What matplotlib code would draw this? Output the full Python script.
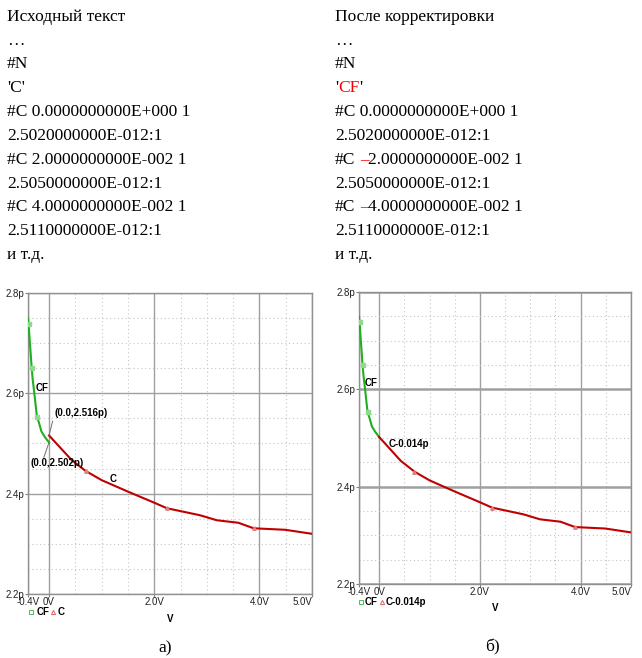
import matplotlib
matplotlib.use("Agg")
import matplotlib.pyplot as plt
from matplotlib.ticker import MultipleLocator

plt.rcParams['font.family'] = ['Liberation Sans', 'DejaVu Sans']

# text blocks above the charts
left_lines = ["Исходный текст", "…", "#N", "'C'",
              "#C 0.0000000000E+000 1", "2.5020000000E-012:1",
              "#C 2.0000000000E-002 1", "2.5050000000E-012:1",
              "#C 4.0000000000E-002 1", "2.5110000000E-012:1", "и т.д."]
right_lines = [[("После корректировки", "k")], [("…", "k")], [("#N", "k")],
               [("'", "k"), ("CF", "red"), ("'", "k")],
               [("#C 0.0000000000E+000 1", "k")], [("2.5020000000E-012:1", "k")],
               [("#C ", "k"), ("–", "red"), ("2.0000000000E-002 1", "k")],
               [("2.5050000000E-012:1", "k")],
               [("#C ", "k"), ("–", "red"), ("4.0000000000E-002 1", "k")],
               [("2.5110000000E-012:1", "k")], [("и т.д.", "k")]]

# curves (V, pF)
cf_v = [-0.40, -0.39, -0.33, -0.31, -0.285, -0.25, -0.23, -0.19, -0.145, -0.08, 0.0]
cf_c = [2.749, 2.739, 2.651, 2.627, 2.605, 2.572, 2.553, 2.541, 2.524, 2.513, 2.502]
c_v = [0.0, 0.43, 0.70, 1.0, 1.48, 2.0, 2.24, 2.87, 3.19, 3.60, 3.89, 4.49, 5.0]
c_c = [2.516, 2.467, 2.445, 2.427, 2.405, 2.382, 2.371, 2.357, 2.347, 2.342, 2.331, 2.328, 2.320]
shift = 0.014
c_shifted = [c - shift for c in c_c]

x_ticks = [-0.4, 0.0, 2.0, 4.0, 5.0]
x_tick_labels = ["-0.4V", "0V", "2.0V", "4.0V", "5.0V"]
y_ticks = [2.2, 2.4, 2.6, 2.8]
y_tick_labels = ["2.2p", "2.4p", "2.6p", "2.8p"]

GREEN = '#1fb01f'
RED = '#c00000'
W, H = 642, 658

fig = plt.figure(figsize=(6.42, 6.58), dpi=100)
ax1 = fig.add_axes([28/W, 1-594/H, 284/W, 301/H])
ax2 = fig.add_axes([359/W, 1-584/H, 272/W, 292/H])
renderer = fig.canvas.get_renderer()

# top text
serif = ['Liberation Serif', 'DejaVu Serif']
fs = 12.5


def text_w(s):
    t = fig.text(0, 0, s, family=serif, fontsize=fs)
    w = t.get_window_extent(renderer).width
    t.remove()
    return w


for i, s in enumerate(left_lines):
    fig.text(7/W, 1-(20.7+23.83*i)/H, s, family=serif, fontsize=fs, va='baseline')

x0 = 335
for i, parts in enumerate(right_lines):
    y = 1-(20.7+23.83*i)/H
    prefix = ""
    for s, col in parts:
        prefix += s
        piece = s.strip()
        x = x0 + text_w(prefix.rstrip()) - text_w(piece)
        fig.text(x/W, y, piece, family=serif, fontsize=fs, va='baseline', color=col)


def setup(ax, ygrid_lw):
    ax.set_xlim(-0.4, 5.0)
    ax.set_ylim(2.2, 2.8)
    ax.set_xticks(x_ticks)
    ax.set_xticklabels(x_tick_labels)
    ax.set_yticks(y_ticks)
    ax.set_yticklabels(y_tick_labels)
    ax.xaxis.set_minor_locator(MultipleLocator(0.5))
    ax.yaxis.set_minor_locator(MultipleLocator(0.05))
    ax.grid(which='major', axis='x', color='#a0a0a0', lw=1.0)
    ax.grid(which='major', axis='y', color='#a0a0a0', lw=ygrid_lw)
    ax.grid(which='minor', color='#c4c4c4', lw=0.8, ls=(0, (1, 2.5)))
    ax.tick_params(which='major', length=2, width=0.8, color='#808080',
                   labelsize=7, labelcolor='#222222', pad=0.5)
    ax.tick_params(which='minor', length=0)
    for sp in ax.spines.values():
        sp.set_color('#909090')
        sp.set_linewidth(1)
    ax.set_axisbelow(True)
    ax.get_xticklabels()[-1].set_ha('right')


def legend(ax, y, xs, label2):
    ax.plot([xs[0]], [y], transform=ax.transAxes, marker='s', ms=3, mfc='none',
            mec='#50c050', mew=0.7, clip_on=False)
    ax.text(xs[1], y, "CF", transform=ax.transAxes, fontsize=7, weight='bold', va='center')
    ax.plot([xs[2]], [y], transform=ax.transAxes, marker='^', ms=3, mfc='none',
            mec='#e06060', mew=0.7, clip_on=False)
    ax.text(xs[3], y, label2, transform=ax.transAxes, fontsize=7, weight='bold', va='center')


for ax, yl in ((ax1, 1.0), (ax2, 1.8)):
    setup(ax, yl)
    ax.plot(cf_v, cf_c, color=GREEN, lw=1.5, marker='s', ms=2.5, mfc='#8fd88f',
            mec='#8fd88f', markevery=[1, 2, 6], zorder=3)

ax1.plot(c_v, c_c, color=RED, lw=1.5, marker='^', ms=2.5, mfc='#e08080',
         mec='#e08080', markevery=[2, 6, 10], zorder=3)
ax2.plot(c_v, c_shifted, color=RED, lw=1.5, marker='^', ms=2.5, mfc='#e08080',
         mec='#e08080', markevery=[2, 6, 10], zorder=3)

# labels on panel a
ax1.text(-0.25, 2.61, "CF", fontsize=7, weight='bold', va='center')
ax1.text(1.16, 2.429, "C", fontsize=7, weight='bold', va='center')
ax1.annotate("", xy=(0.0, 2.516), xytext=(0.07, 2.545),
             arrowprops=dict(arrowstyle='-', color='#707070', lw=0.7, shrinkA=0, shrinkB=0))
ax1.text(0.11, 2.561, "(0.0,2.516p)", fontsize=7, weight='bold', va='center')
ax1.annotate("", xy=(0.0, 2.502), xytext=(-0.10, 2.472),
             arrowprops=dict(arrowstyle='-', color='#707070', lw=0.7, shrinkA=0, shrinkB=0))
ax1.text(0.156, 2.461, "(0.0,2.502p)", fontsize=7, weight='bold', va='center', ha='center')

# labels on panel b
ax2.text(-0.28, 2.612, "CF", fontsize=7, weight='bold', va='center')
ax2.text(0.185, 2.488, "C-0.014p", fontsize=7, weight='bold', va='center')

legend(ax1, -0.059, [0.011, 0.029, 0.087, 0.104], "C")
legend(ax2, -0.060, [0.007, 0.020, 0.083, 0.098], "C-0.014p")

ax1.text(0.5, -0.083, "V", transform=ax1.transAxes, fontsize=7, weight='bold',
         ha='center', va='center')
ax2.text(0.5, -0.082, "V", transform=ax2.transAxes, fontsize=7, weight='bold',
         ha='center', va='center')

fig.text(165/W, 1-648/H, "а)", family=serif, fontsize=fs, ha='center', va='center')
fig.text(492/W, 1-647/H, "б)", family=serif, fontsize=fs, ha='center', va='center')

fig.savefig("out.png", dpi=100)
